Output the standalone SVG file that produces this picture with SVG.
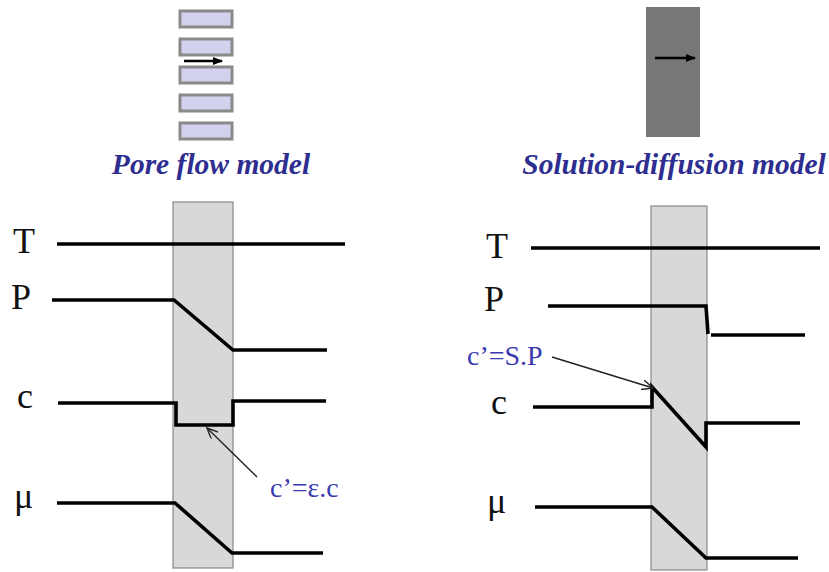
<svg xmlns="http://www.w3.org/2000/svg" width="829" height="572" viewBox="0 0 829 572">
<style>
.lbl{font-family:"Liberation Serif","DejaVu Serif",serif;font-size:36px;fill:#111}
.ttl{font-family:"Liberation Serif","DejaVu Serif",serif;font-size:29.5px;font-weight:bold;font-style:italic;fill:#2e2e90}
.eq{font-family:"Liberation Serif","DejaVu Serif",serif;font-size:28px;fill:#3a3ab0}
.mem{fill:#d8d8d8;stroke:#888;stroke-width:1.2}
.pore{fill:#d2d2ee;stroke:#8a8a8a;stroke-width:3}
.curve{fill:none;stroke:#000;stroke-width:3.6;stroke-linejoin:miter}
.ptr{fill:none;stroke:#222;stroke-width:1.4}
</style>
<defs>
<marker id="fa" markerWidth="10" markerHeight="8" refX="9" refY="4" orient="auto" markerUnits="userSpaceOnUse"><path d="M0,0 L10,4 L0,8 Z" fill="#000"/></marker>
<marker id="oa" markerWidth="12" markerHeight="10" refX="11" refY="5" orient="auto" markerUnits="userSpaceOnUse"><path d="M0,0 L11,5 L0,10" fill="none" stroke="#222" stroke-width="1.4"/></marker>
</defs>
<rect width="829" height="572" fill="#fff"/>

<g id="pore-icon">
<rect class="pore" x="180" y="11" width="52" height="16"/>
<rect class="pore" x="180" y="39" width="52" height="16"/>
<rect class="pore" x="180" y="67" width="52" height="16"/>
<rect class="pore" x="180" y="95" width="52" height="16"/>
<rect class="pore" x="180" y="123" width="52" height="16"/>
<line x1="184" y1="61" x2="222" y2="61" stroke="#000" stroke-width="2.5" marker-end="url(#fa)"/>
</g>
<g id="dense-icon">
<rect x="646" y="7" width="54" height="130" fill="#777"/>
<line x1="655" y1="58" x2="695" y2="58" stroke="#000" stroke-width="2.5" marker-end="url(#fa)"/>
</g>
<text id="title-left" class="ttl" x="211" y="174" text-anchor="middle">Pore flow model</text>
<text id="title-right" class="ttl" x="674" y="174" text-anchor="middle">Solution-diffusion model</text>

<g id="membrane-left"><rect class="mem" x="173" y="202" width="60" height="366"/></g>
<g id="membrane-right"><rect class="mem" x="651" y="206" width="56" height="364"/></g>

<g id="labels-left">
<text class="lbl" x="13" y="253">T</text>
<text class="lbl" x="11" y="309">P</text>
<text class="lbl" x="17" y="408">c</text>
<text class="lbl" x="14" y="508">μ</text>
</g>
<g id="labels-right">
<text class="lbl" x="486" y="258">T</text>
<text class="lbl" x="484" y="311">P</text>
<text class="lbl" x="491" y="414">c</text>
<text class="lbl" x="487" y="513">μ</text>
</g>

<g id="connectors">
<path class="curve" d="M57,244 H345"/>
<path class="curve" d="M52,300 H174 L233,350 H327"/>
<path class="curve" d="M58,403 H176 V425 H233 V401 H326"/>
<path class="curve" d="M57,503 H175 L232,553 H323"/>
<path class="curve" d="M531,248 H820"/>
<path class="curve" d="M548,306 H706 L708,334"/>
<path class="curve" d="M711,335 H805"/>
<path class="curve" d="M533,407 H652 V387 L706,447 V423 H800"/>
<path class="curve" d="M535,507 H652 L706,558 H798"/>
<line class="ptr" x1="257" y1="477" x2="207" y2="428" marker-end="url(#oa)"/>
<line class="ptr" x1="552" y1="357" x2="653" y2="388" marker-end="url(#oa)"/>
</g>
<text id="eq-left" class="eq" x="270" y="497">c’=ε.c</text>
<text id="eq-right" class="eq" x="467" y="365">c’=S.P</text>
</svg>
